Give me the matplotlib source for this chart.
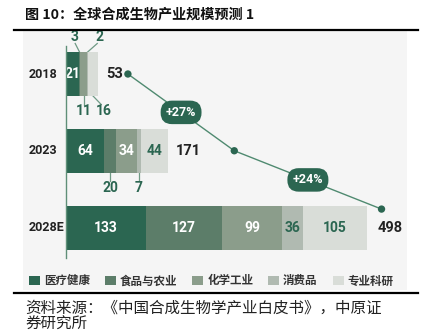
import numpy as np
import matplotlib.pyplot as plt
from matplotlib.patches import Patch
from matplotlib.lines import Line2D

plt.rcParams['font.family'] = ['Noto Sans CJK SC', 'DejaVu Sans']

# data
years = ['2018', '2023', '2028E']
sectors = ['医疗健康', '食品与农业', '化学工业', '消费品', '专业科研']
values = np.array([
    [21, 3, 11, 2, 16],
    [64, 20, 34, 7, 44],
    [133, 127, 99, 36, 105],
])
totals = [53, 171, 498]
growth = ['+27%', '+24%']
# where the trend dots sit (value axis, row)
dot_x = [103, 280, 525]
dot_y = [0, 1.0, 1.76]

colors = ['#2b6651', '#5c7d69', '#8b9d8b', '#b0bab1', '#d9ddd8']
txt_colors = ['white', 'white', 'white', '#2b6651', '#2b6651']
green = '#2b6651'

W, H = 423, 332
fig = plt.figure(figsize=(W / 100, H / 100), dpi=100)
fig.patch.set_facecolor('white')

# px helpers for layout
def fx(px):
    return px / W

def fy(py):
    return 1 - py / H

ax = fig.add_axes([fx(23), fy(290), fx(407) - fx(23), fy(31) - fy(290)])
ax.set_facecolor('#f5f5f5')
k = 0.601  # px per unit
ax.set_xlim((23 - 66) / k, (407 - 66) / k)
yk = 76.75
ax.set_ylim((290 - 74) / yk, (31 - 74) / yk)
for s in ax.spines.values():
    s.set_visible(False)
ax.set_xticks([])
ax.set_yticks([])

bh = 44 / yk
num_font = dict(family=['Roboto', 'DejaVu Sans'], fontweight='bold')

ypos = np.arange(len(years))
for i, yr in enumerate(years):
    left = 0
    for j in range(len(sectors)):
        v = values[i, j]
        ax.barh(ypos[i], v, left=left, height=bh, color=colors[j], edgecolor='none', zorder=2)
        left += v
    ax.text((29 - 66) / k, ypos[i], yr, ha='left', va='center', fontsize=9, color='#222222', **num_font)
    ax.text(left + 14 if i < 2 else left + 18, ypos[i], str(totals[i]), ha='left', va='center',
            fontsize=10.5, color='#222222', **num_font)

# labels inside the bars
inside = {0: [0], 1: [0, 2, 4], 2: [0, 1, 2, 3, 4]}
for i, js in inside.items():
    lefts = np.concatenate([[0], np.cumsum(values[i])[:-1]])
    for j in js:
        ax.text(lefts[j] + values[i, j] / 2, ypos[i], str(values[i, j]), ha='center', va='center',
                fontsize=10, color=txt_colors[j], zorder=3, **num_font)

# small segments labelled outside with leader lines: (row, segment, side, label shift)
outside = [(0, 1, -1, -9), (0, 3, -1, 20), (0, 2, 1, 0), (0, 4, 1, 17), (1, 1, 1, 0), (1, 3, 1, 0)]
for i, j, side, dx in outside:
    lefts = np.concatenate([[0], np.cumsum(values[i])[:-1]])
    cx = lefts[j] + values[i, j] / 2
    edge = ypos[i] + side * bh / 2
    ax.plot([cx, cx + dx * 0.8], [edge, edge + side * 8.5 / yk], color='#6f9a85', lw=0.9, zorder=1)
    ax.text(cx + dx, edge + side * 15 / yk, str(values[i, j]), ha='center', va='center',
            fontsize=10, color=green, **num_font)

# axis line
ax.plot([0, 0], [(46 - 74) / yk, (258 - 74) / yk], color='#5f8f78', lw=1, zorder=3)

# trend line
ax.plot(dot_x, dot_y, color='#4f8a70', lw=1, zorder=1)
ax.scatter(dot_x, dot_y, s=28, color=green, zorder=4, edgecolors='none')
for g in range(len(growth)):
    mx = (dot_x[g] + dot_x[g + 1]) / 2
    my = (dot_y[g] + dot_y[g + 1]) / 2
    ax.text(mx, my, growth[g], ha='center', va='center', fontsize=9, color='white', zorder=5,
            bbox=dict(boxstyle='round,pad=0.42,rounding_size=0.9', fc=green, ec='none'), **num_font)

# legend
handles = [Patch(facecolor=c, edgecolor='none') for c in colors]
leg = ax.legend(handles, sectors, ncol=5, loc='center', bbox_to_anchor=(0.49, 0.035), frameon=False,
                handlelength=0.95, handleheight=0.95, handletextpad=0.35, columnspacing=1.3,
                prop=dict(family=['Noto Sans CJK SC', 'DejaVu Sans'], size=8.3, weight='bold'))
for t in leg.get_texts():
    t.set_color('#333333')

# title, rules, source
fig.text(fx(25), fy(15), '图 10：全球合成生物产业规模预测 1', ha='left', va='center', fontsize=10.2,
         fontweight='bold', color='#111111')
fig.add_artist(Line2D([fx(14), fx(418)], [fy(30), fy(30)], color='black', lw=1.6))
fig.add_artist(Line2D([fx(14), fx(418)], [fy(293), fy(293)], color='black', lw=1.6))
fig.text(fx(25), fy(308), '资料来源：《中国合成生物学产业白皮书》，中原证', ha='left', va='center',
         fontsize=11.2, color='#222222')
fig.text(fx(25), fy(324), '券研究所', ha='left', va='center', fontsize=11.2, color='#222222')

fig.savefig('out.png', dpi=100)
